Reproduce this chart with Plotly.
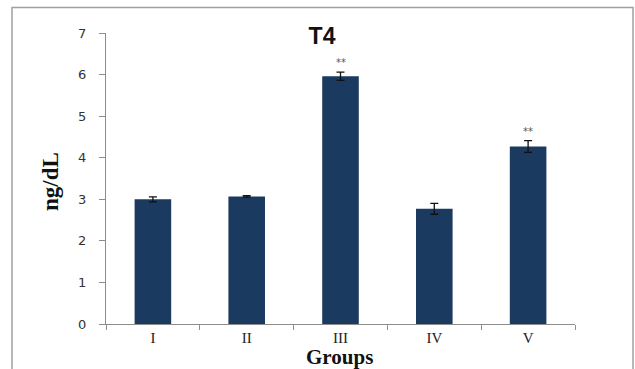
import plotly.graph_objects as go

# T4 concentration per group (mean ± error)
groups = ["I", "II", "III", "IV", "V"]
t4_mean = [3.00, 3.07, 5.96, 2.77, 4.27]
t4_err = [0.06, 0.02, 0.10, 0.13, 0.14]
significance = ["", "", "**", "", "**"]

bar_color = "#1b3a60"
axis_color = "#8c8c8c"

# plot-area geometry in pixels
W, H = 635, 369
L, R, T, B = 106, 60, 33, 45
PW, PH = W - L - R, H - T - B


def px_x(p):
    return (p - L) / PW


def px_y(p):
    return (H - B - p) / PH


fig = go.Figure(
    go.Bar(
        x=groups,
        y=t4_mean,
        marker=dict(color=bar_color, line=dict(width=0)),
        error_y=dict(type="data", array=t4_err, color="#111111",
                     thickness=1.3, width=4),
        width=0.39,
    )
)

# significance markers above the error bars
for g, m, e, s in zip(groups, t4_mean, t4_err, significance):
    if s:
        fig.add_annotation(
            x=g, y=m + e, text=s, showarrow=False,
            yanchor="bottom", yshift=2,
            font=dict(family="DejaVu Sans", size=10, color="#555555"),
        )

# axis titles
fig.add_annotation(
    text="<b>Groups</b>", xref="paper", yref="paper",
    x=px_x(339), y=px_y(357), xanchor="center", yanchor="middle",
    showarrow=False,
    font=dict(family="Liberation Serif", size=21, color="#111111"),
)
fig.add_annotation(
    text="<b>ng/dL</b>", xref="paper", yref="paper",
    x=px_x(50), y=px_y(182), xanchor="center", yanchor="middle",
    textangle=-90, showarrow=False,
    font=dict(family="Liberation Serif", size=23, color="#111111"),
)

# outer frame around the chart
fig.add_shape(
    type="rect", xref="paper", yref="paper",
    x0=px_x(12), x1=px_x(633), y0=px_y(380), y1=px_y(7.5),
    line=dict(color="#a0a0a0", width=1.5), fillcolor="rgba(0,0,0,0)",
    layer="below",
)

fig.update_layout(
    width=W, height=H,
    margin=dict(l=L, r=R, t=T, b=B, autoexpand=False),
    paper_bgcolor="white", plot_bgcolor="white",
    showlegend=False,
    title=dict(
        text="<b>T4</b>", x=px_x(322), xref="paper", xanchor="center",
        y=(H - 36) / H, yanchor="middle",
        font=dict(family="Liberation Sans", size=23, color="#111111"),
    ),
    xaxis=dict(
        automargin=False,
        showline=True, linecolor=axis_color, linewidth=1.3,
        ticks="outside", tickson="boundaries", ticklen=5,
        tickcolor=axis_color, tickwidth=1.3,
        ticklabelstandoff=0,
        tickfont=dict(family="Liberation Serif", size=15, color="#222222"),
        showgrid=False, zeroline=False,
    ),
    yaxis=dict(
        automargin=False,
        range=[0, 7], dtick=1,
        showline=True, linecolor=axis_color, linewidth=1.3,
        ticks="outside", ticklen=6, tickcolor=axis_color, tickwidth=1.3,
        ticklabelstandoff=10,
        tickfont=dict(family="DejaVu Sans", size=13, color="#333333"),
        showgrid=False, zeroline=False,
    ),
)

fig.write_html("out.html")
